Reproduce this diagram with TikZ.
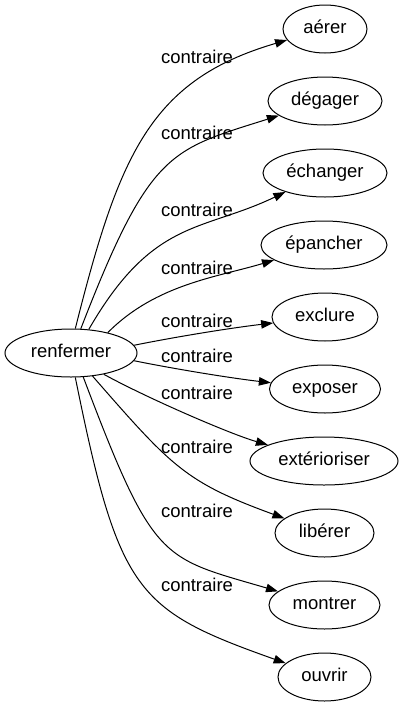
\documentclass[tikz,border=0pt]{standalone}
\usepackage{fontspec}
\setmainfont{Liberation Sans}
\usetikzlibrary{arrows.meta,shapes.geometric}
\tikzset{
  word/.style={ellipse, draw, line width=1pt, inner sep=0pt, minimum height=48pt,
    font=\fontsize{18.5}{20}\selectfont, text height=9.5pt, text depth=0pt},
  rel/.style={inner sep=0pt, font=\fontsize{18.5}{20}\selectfont, text height=9.5pt, text depth=0pt},
  conn/.style={-{Triangle[length=12pt,width=8.5pt]}, line width=1pt}
}
\begin{document}
\begin{tikzpicture}[x=1pt,y=-1pt]
\useasboundingbox (0,0) rectangle (404,707);
\node[word, minimum width=132pt] (ren) at (71,353) {renfermer};
\node[word, minimum width=84pt]  (aer) at (325,29)  {aérer};
\node[word, minimum width=114pt] (deg) at (325,101) {dégager};
\node[word, minimum width=124pt] (ech) at (325,173) {échanger};
\node[word, minimum width=126pt] (epa) at (324,245) {épancher};
\node[word, minimum width=106pt] (exc) at (325,317) {exclure};
\node[word, minimum width=111pt] (exp) at (325,389) {exposer};
\node[word, minimum width=148pt] (ext) at (324,461) {extérioriser};
\node[word, minimum width=99pt]  (lib) at (324.5,533) {libérer};
\node[word, minimum width=111pt] (mon) at (324.5,605) {montrer};
\node[word, minimum width=93pt]  (ouv) at (324.5,677) {ouvrir};

\draw[conn] (ren.80) .. controls (119,155) and (150,80) .. (aer);
\draw[conn] (ren.68.6) .. controls (150,150) and (170,150) .. (deg);
\draw[conn] (ren.53.5) .. controls (153,218) and (202,232) .. (ech);
\draw[conn] (ren.29) .. controls (156,284) and (218,277) .. (epa);
\draw[conn] (ren.7.5) .. controls (175,337) and (230,328) .. (exc);
\draw[conn] (ren.-7.5) .. controls (175,369) and (230,378) .. (exp);
\draw[conn] (ren.-33) .. controls (147,398) and (230,434) .. (ext);
\draw[conn] (ren.-47.4) .. controls (172,467) and (185,482) .. (lib);
\draw[conn] (ren.-63) .. controls (154,564) and (161,557) .. (mon);
\draw[conn] (ren.-80.5) .. controls (119,593) and (136,610) .. (ouv);

\node[rel] (l1)  at (197,59)  {contraire};
\node[rel] (l2)  at (197,135) {contraire};
\node[rel] (l3)  at (197,212) {contraire};
\node[rel] (l4)  at (197,270) {contraire};
\node[rel] (l5)  at (197,323) {contraire};
\node[rel] (l6)  at (197,358) {contraire};
\node[rel] (l7)  at (197,395) {contraire};
\node[rel] (l8)  at (197,449) {contraire};
\node[rel] (l9)  at (197,513) {contraire};
\node[rel] (l10) at (197,587) {contraire};
\end{tikzpicture}
\end{document}
